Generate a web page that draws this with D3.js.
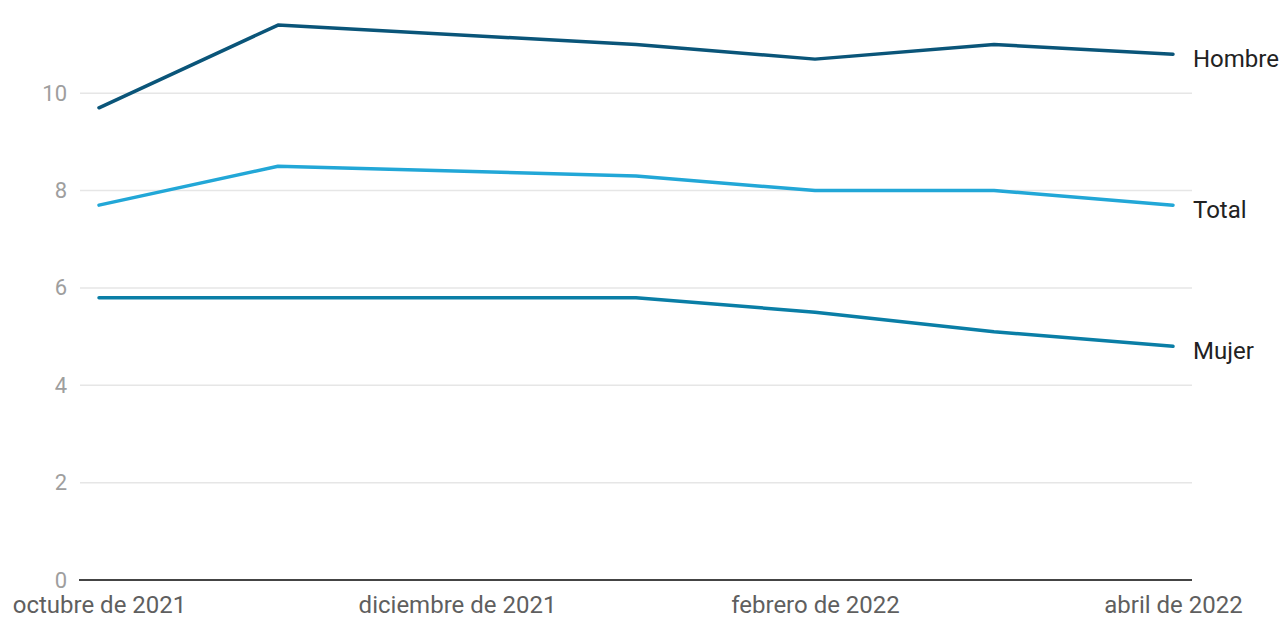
<!DOCTYPE html>
<html><head><meta charset="utf-8">
<script src="https://cdn.jsdelivr.net/npm/d3@7"></script>
<style>
html,body{margin:0;padding:0;background:#fff;}
svg{display:block;font-family:Roboto, "Noto Sans", sans-serif;}
</style></head>
<body>
<svg id="chart" width="1280" height="617"></svg>
<script>
const months = ["octubre de 2021","noviembre de 2021","diciembre de 2021","enero de 2022","febrero de 2022","marzo de 2022","abril de 2022"];
const tickLabels = ["octubre de 2021","diciembre de 2021","febrero de 2022","abril de 2022"];
const yTicks = [0,2,4,6,8,10];
const seriesNames = ["Hombre","Total","Mujer"];
const hombre = [9.7, 11.4, null, 11.0, 10.7, 11.0, 10.8];
const total  = [7.7, 8.5, null, 8.3, 8.0, 8.0, 7.7];
const mujer  = [5.8, 5.8, null, 5.8, 5.5, 5.1, 4.8];
const colors = ["#0a5579","#22a7d7","#0a7ea6"];

const series = [hombre, total, mujer];
const svg = d3.select("#chart");
const x = d3.scalePoint().domain(months).range([99, 1173]);
const y = d3.scaleLinear().domain([0, 11.5]).range([580, 580 - 11.5 * 48.68]);

// gridlines
svg.append("g").selectAll("line").data(yTicks.filter(d => d > 0)).join("line")
  .attr("x1", 80).attr("x2", 1192)
  .attr("y1", d => y(d)).attr("y2", d => y(d))
  .attr("stroke", "#e6e6e6").attr("stroke-width", 1.5);

// y labels
const yAxis = svg.append("g").attr("transform", "translate(80,0)")
  .call(d3.axisLeft(y).tickValues(yTicks).tickSize(0).tickPadding(13).tickFormat(d3.format("d")));
yAxis.select(".domain").remove();
yAxis.selectAll("text").attr("fill", "#9e9e9e").style("font-size", "22px").style("font-family", "Roboto");

// x axis
const xAxis = svg.append("g").attr("transform", "translate(0,580)")
  .call(d3.axisBottom(x).tickValues(tickLabels).tickSize(0).tickPadding(16));
xAxis.select(".domain").remove();
xAxis.selectAll("text").attr("fill", "#5f5f5f").style("font-size", "24px").style("font-family", "Roboto");
svg.append("line").attr("x1", 79).attr("x2", 1192).attr("y1", y(0)).attr("y2", y(0))
  .attr("stroke", "#444").attr("stroke-width", 2);

// lines
const line = d3.line().x(d => x(d.m)).y(d => y(d.v));
series.forEach((s, i) => {
  const pts = months.map((m, j) => ({m, v: s[j]})).filter(d => d.v !== null);
  svg.append("path").datum(pts).attr("d", line)
    .attr("fill", "none").attr("stroke", colors[i]).attr("stroke-width", 3.5)
    .attr("stroke-linejoin", "round").attr("stroke-linecap", "round");
  const last = pts[pts.length - 1];
  svg.append("text").attr("x", x(last.m) + 20).attr("y", y(last.v) + 4)
    .attr("dy", "0.35em").attr("fill", "#222").style("font-size", "24px")
    .text(seriesNames[i]);
});
</script>
</body></html>
